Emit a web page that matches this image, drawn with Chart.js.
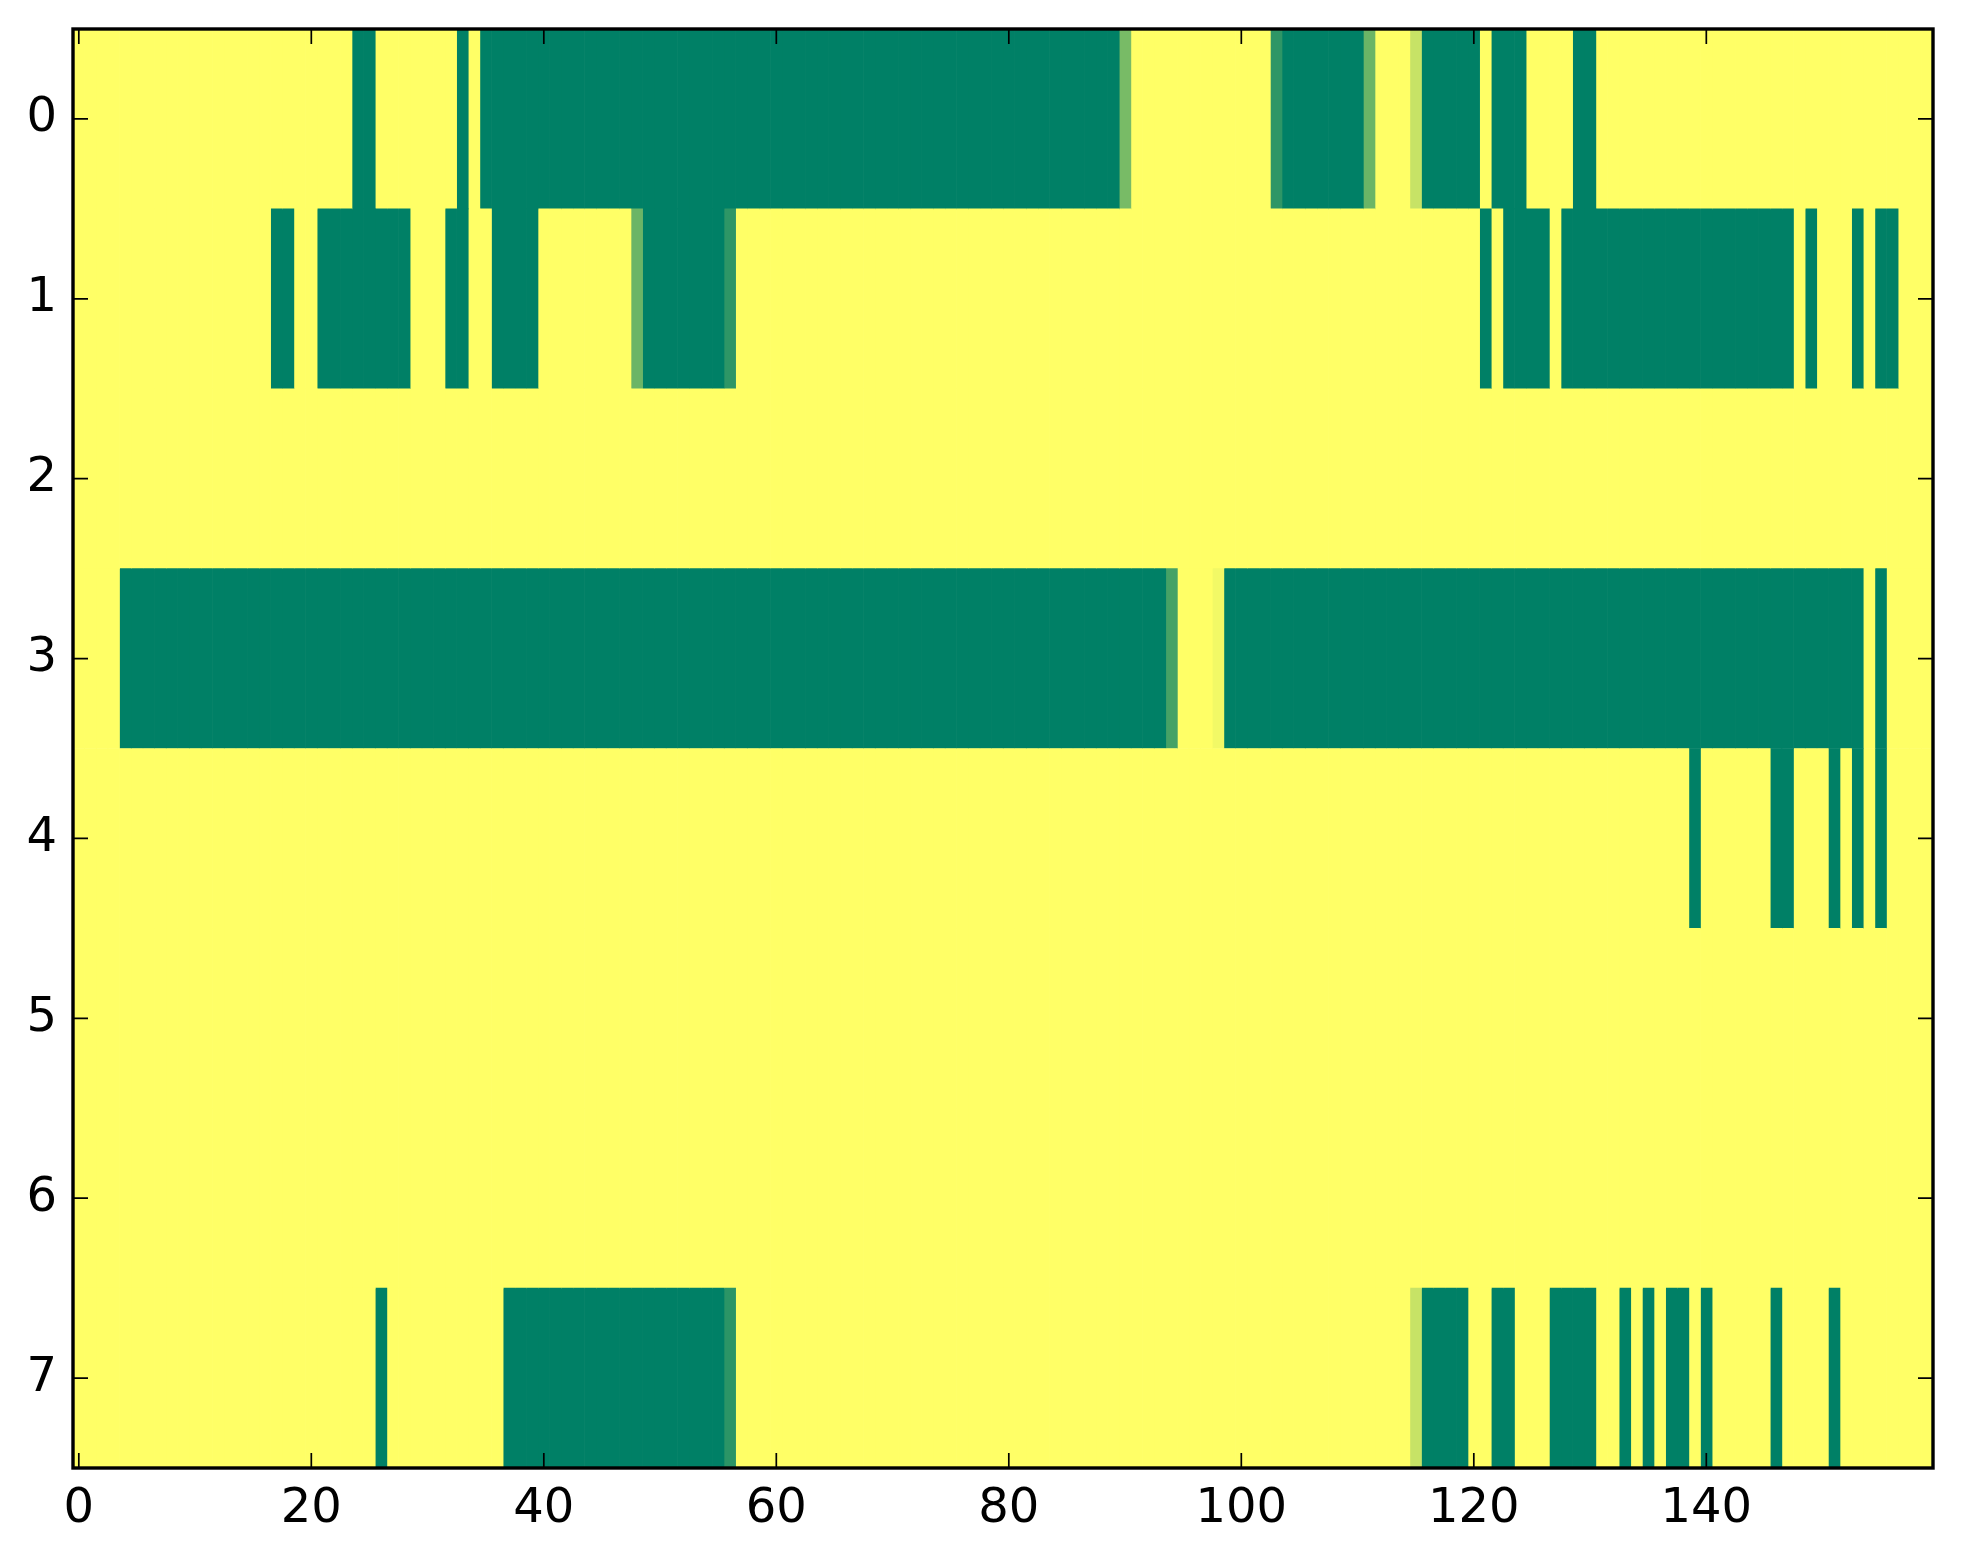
<!DOCTYPE html>
<html>
<head>
<meta charset="utf-8">
<script src="https://cdn.jsdelivr.net/npm/chart.js@4.4.1/dist/chart.umd.min.js"></script>
<style>
html, body { margin: 0; padding: 0; background: #ffffff; }
#wrap { width: 1963px; height: 1564px; }
</style>
</head>
<body>
<div id="wrap"><canvas id="c" width="1963" height="1564"></canvas></div>
<script>
// ---- data ----
const rowLabels = ['0', '1', '2', '3', '4', '5', '6', '7'];
const xTickValues = [0, 20, 40, 60, 80, 100, 120, 140];

const row0 = [
  1,1,1,1,1,1,1,1,1,1,1,1,1,1,1,1,1,1,1,1,
  1,1,1,1,0,0,1,1,1,1,1,1,1,0,1,0,0,0,0,0,
  0,0,0,0,0,0,0,0,0,0,0,0,0,0,0,0,0,0,0,0,
  0,0,0,0,0,0,0,0,0,0,0,0,0,0,0,0,0,0,0,0,
  0,0,0,0,0,0,0,0,0,0,0.47,1,1,1,1,1,1,1,1,1,
  1,1,1,0.18,0,0,0,0,0,0,0,0.42,1,1,1,0.78,0,0,0,0,
  0,1,0,0,0,1,1,1,1,0,0,1,1,1,1,1,1,1,1,1,
  1,1,1,1,1,1,1,1,1,1,1,1,1,1,1,1,1,1,1,1
];
const row1 = [
  1,1,1,1,1,1,1,1,1,1,1,1,1,1,1,1,1,0,0,1,
  1,0,0,0,0,0,0,0,0,1,1,1,0,0,1,1,0,0,0,0,
  1,1,1,1,1,1,1,1,0.42,0,0,0,0,0,0,0,0.18,1,1,1,
  1,1,1,1,1,1,1,1,1,1,1,1,1,1,1,1,1,1,1,1,
  1,1,1,1,1,1,1,1,1,1,1,1,1,1,1,1,1,1,1,1,
  1,1,1,1,1,1,1,1,1,1,1,1,1,1,1,1,1,1,1,1,
  1,0,1,0,0,0,0,1,0,0,0,0,0,0,0,0,0,0,0,0,
  0,0,0,0,0,0,0,0,1,0,1,1,1,0,1,0,0,1,1,1
];
const row2 = [
  1,1,1,1,1,1,1,1,1,1,1,1,1,1,1,1,1,1,1,1,
  1,1,1,1,1,1,1,1,1,1,1,1,1,1,1,1,1,1,1,1,
  1,1,1,1,1,1,1,1,1,1,1,1,1,1,1,1,1,1,1,1,
  1,1,1,1,1,1,1,1,1,1,1,1,1,1,1,1,1,1,1,1,
  1,1,1,1,1,1,1,1,1,1,1,1,1,1,1,1,1,1,1,1,
  1,1,1,1,1,1,1,1,1,1,1,1,1,1,1,1,1,1,1,1,
  1,1,1,1,1,1,1,1,1,1,1,1,1,1,1,1,1,1,1,1,
  1,1,1,1,1,1,1,1,1,1,1,1,1,1,1,1,1,1,1,1
];
const row3 = [
  1,1,1,1,0,0,0,0,0,0,0,0,0,0,0,0,0,0,0,0,
  0,0,0,0,0,0,0,0,0,0,0,0,0,0,0,0,0,0,0,0,
  0,0,0,0,0,0,0,0,0,0,0,0,0,0,0,0,0,0,0,0,
  0,0,0,0,0,0,0,0,0,0,0,0,0,0,0,0,0,0,0,0,
  0,0,0,0,0,0,0,0,0,0,0,0,0,0,0.27,1,1,1,0.95,0,
  0,0,0,0,0,0,0,0,0,0,0,0,0,0,0,0,0,0,0,0,
  0,0,0,0,0,0,0,0,0,0,0,0,0,0,0,0,0,0,0,0,
  0,0,0,0,0,0,0,0,0,0,0,0,0,0,1,0,1,1,1,1
];
const row4 = [
  1,1,1,1,1,1,1,1,1,1,1,1,1,1,1,1,1,1,1,1,
  1,1,1,1,1,1,1,1,1,1,1,1,1,1,1,1,1,1,1,1,
  1,1,1,1,1,1,1,1,1,1,1,1,1,1,1,1,1,1,1,1,
  1,1,1,1,1,1,1,1,1,1,1,1,1,1,1,1,1,1,1,1,
  1,1,1,1,1,1,1,1,1,1,1,1,1,1,1,1,1,1,1,1,
  1,1,1,1,1,1,1,1,1,1,1,1,1,1,1,1,1,1,1,1,
  1,1,1,1,1,1,1,1,1,1,1,1,1,1,1,1,1,1,1,0,
  1,1,1,1,1,1,0,0,1,1,1,0,1,0,1,0,1,1,1,1
];
const row5 = [
  1,1,1,1,1,1,1,1,1,1,1,1,1,1,1,1,1,1,1,1,
  1,1,1,1,1,1,1,1,1,1,1,1,1,1,1,1,1,1,1,1,
  1,1,1,1,1,1,1,1,1,1,1,1,1,1,1,1,1,1,1,1,
  1,1,1,1,1,1,1,1,1,1,1,1,1,1,1,1,1,1,1,1,
  1,1,1,1,1,1,1,1,1,1,1,1,1,1,1,1,1,1,1,1,
  1,1,1,1,1,1,1,1,1,1,1,1,1,1,1,1,1,1,1,1,
  1,1,1,1,1,1,1,1,1,1,1,1,1,1,1,1,1,1,1,1,
  1,1,1,1,1,1,1,1,1,1,1,1,1,1,1,1,1,1,1,1
];
const row6 = [
  1,1,1,1,1,1,1,1,1,1,1,1,1,1,1,1,1,1,1,1,
  1,1,1,1,1,1,1,1,1,1,1,1,1,1,1,1,1,1,1,1,
  1,1,1,1,1,1,1,1,1,1,1,1,1,1,1,1,1,1,1,1,
  1,1,1,1,1,1,1,1,1,1,1,1,1,1,1,1,1,1,1,1,
  1,1,1,1,1,1,1,1,1,1,1,1,1,1,1,1,1,1,1,1,
  1,1,1,1,1,1,1,1,1,1,1,1,1,1,1,1,1,1,1,1,
  1,1,1,1,1,1,1,1,1,1,1,1,1,1,1,1,1,1,1,1,
  1,1,1,1,1,1,1,1,1,1,1,1,1,1,1,1,1,1,1,1
];
const row7 = [
  1,1,1,1,1,1,1,1,1,1,1,1,1,1,1,1,1,1,1,1,
  1,1,1,1,1,1,0,1,1,1,1,1,1,1,1,1,1,0,0,0,
  0,0,0,0,0,0,0,0,0,0,0,0,0,0,0,0,0.17,1,1,1,
  1,1,1,1,1,1,1,1,1,1,1,1,1,1,1,1,1,1,1,1,
  1,1,1,1,1,1,1,1,1,1,1,1,1,1,1,1,1,1,1,1,
  1,1,1,1,1,1,1,1,1,1,1,1,1,1,1,0.78,0,0,0,0,
  1,1,0,0,1,1,1,0,0,0,0,1,1,0,1,0,1,0,0,1,
  0,1,1,1,1,1,0,1,1,1,1,0,1,1,1,1,1,1,1,1
];

const matrix = [row0, row1, row2, row3, row4, row5, row6, row7];
const nCols = row0.length;

// matplotlib "summer" colormap
function summer(v) {
  const r = Math.round(255 * v);
  const g = Math.round(255 * (0.5 + 0.5 * v));
  const b = Math.round(255 * 0.4);
  return 'rgb(' + r + ',' + g + ',' + b + ')';
}

const datasets = [];
for (let c = 0; c < nCols; c++) {
  datasets.push({
    label: 'col ' + c,
    data: matrix.map(() => [c - 0.5, c + 0.5]),
    backgroundColor: matrix.map(row => summer(row[c])),
    borderWidth: 0,
    grouped: false,
    barPercentage: 1,
    categoryPercentage: 1
  });
}

const frameAndTicks = {
  id: 'frameAndTicks',
  afterDraw(chart) {
    const ctx = chart.ctx;
    const { left, right, top, bottom } = chart.chartArea;
    const tl = 15;
    ctx.save();
    ctx.strokeStyle = '#000';
    ctx.lineWidth = 1.7;
    ctx.beginPath();
    const xs = chart.scales.x;
    xs.ticks.forEach(t => {
      const px = xs.getPixelForValue(t.value);
      ctx.moveTo(px, bottom); ctx.lineTo(px, bottom - tl);
      ctx.moveTo(px, top); ctx.lineTo(px, top + tl);
    });
    const ys = chart.scales.y;
    ys.ticks.forEach((t, i) => {
      const py = ys.getPixelForTick(i);
      ctx.moveTo(left, py); ctx.lineTo(left + tl, py);
      ctx.moveTo(right, py); ctx.lineTo(right - tl, py);
    });
    ctx.stroke();
    ctx.lineWidth = 3.4;
    ctx.strokeRect(left, top, right - left, bottom - top);
    ctx.restore();
  }
};

new Chart(document.getElementById('c'), {
  type: 'bar',
  data: { labels: rowLabels, datasets: datasets },
  options: {
    indexAxis: 'y',
    responsive: false,
    devicePixelRatio: 1,
    animation: false,
    layout: { padding: { left: 0, top: 29, right: 30, bottom: 0 } },
    plugins: { legend: { display: false }, tooltip: { enabled: false } },
    scales: {
      x: {
        type: 'linear',
        position: 'bottom',
        min: -0.5,
        max: nCols - 0.5,
        afterBuildTicks: s => { s.ticks = xTickValues.map(v => ({ value: v })); },
        afterFit: s => { s.height = 96; },
        grid: { display: false, drawTicks: false },
        border: { display: false },
        ticks: { font: { family: 'DejaVu Sans', size: 48 }, color: '#000', padding: 13, maxRotation: 0, autoSkip: false }
      },
      y: {
        type: 'category',
        position: 'left',
        offset: true,
        afterFit: s => { s.width = 73; },
        grid: { display: false, drawTicks: false },
        border: { display: false },
        ticks: { font: { family: 'DejaVu Sans', size: 48, lineHeight: 0.5 }, color: '#000', padding: 16, autoSkip: false }
      }
    }
  },
  plugins: [frameAndTicks]
});
</script>
</body>
</html>
